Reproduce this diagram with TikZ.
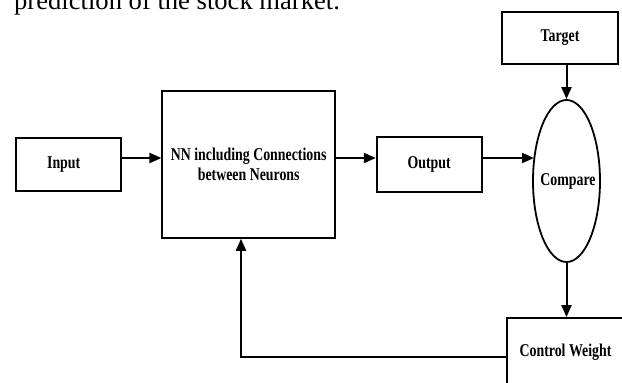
\documentclass[tikz,border=0pt]{standalone}
\usepackage{fontspec}
\setmainfont{Liberation Serif}
\newfontfamily\lblfont{Liberation Serif}[FakeStretch=0.77]
\usetikzlibrary{arrows.meta,shapes.geometric}
\begin{document}
\begin{tikzpicture}[x=1pt,y=-1pt,
  lbl/.style={font=\lblfont\bfseries\fontsize{18}{20}\selectfont, align=center, inner sep=0pt},
  box/.style={draw, line width=1.8pt, lbl},
  arr/.style={line width=2pt, -{Triangle[length=12pt,width=10pt]}}]
\useasboundingbox (0,0) rectangle (622,383);
\clip (0,0) rectangle (622,383);
\node[anchor=base west, inner sep=0pt, font=\fontsize{26.6}{30}\selectfont] (cap) at (14,9) {prediction of the stock market.};
\node[box, minimum width=105pt, minimum height=53.5pt] (inp) at (68.2,164.4) {\hspace*{-9pt}Input};
\node[box, minimum width=172.7pt, minimum height=146.7pt] (nn) at (248.7,164.5) {NN including Connections\\between Neurons};
\node[box, minimum width=105pt, minimum height=54.4pt] (out) at (429.2,164.5) {Output};
\node[box, minimum width=116pt, minimum height=52.3pt] (tgt) at (560,37.9) {Target};
\node[draw, line width=1.8pt, ellipse, inner sep=0pt, minimum width=67pt, minimum height=162pt] (cmp) at (566.5,181) {};
\node[lbl] (cmptext) at (568,181.5) {Compare};
\node[box, minimum width=117pt, minimum height=69pt] (cw) at (565.5,352.5) {Control Weight};
\coordinate (fb) at (241,357);
\draw[arr] (inp.east |- 0,158) -- (nn.west |- 0,158);
\draw[arr] (nn.east |- 0,158) -- (out.west |- 0,158);
\draw[arr] (out.east |- 0,158) -- (534,158);
\draw[arr] (tgt.south -| cmp.north) -- (cmp.north);
\draw[arr] (cmp.south) -- (cw.north -| cmp.south);
\draw[arr] (cw.west |- fb) -- (fb) -- (fb |- nn.south);
\end{tikzpicture}
\end{document}
